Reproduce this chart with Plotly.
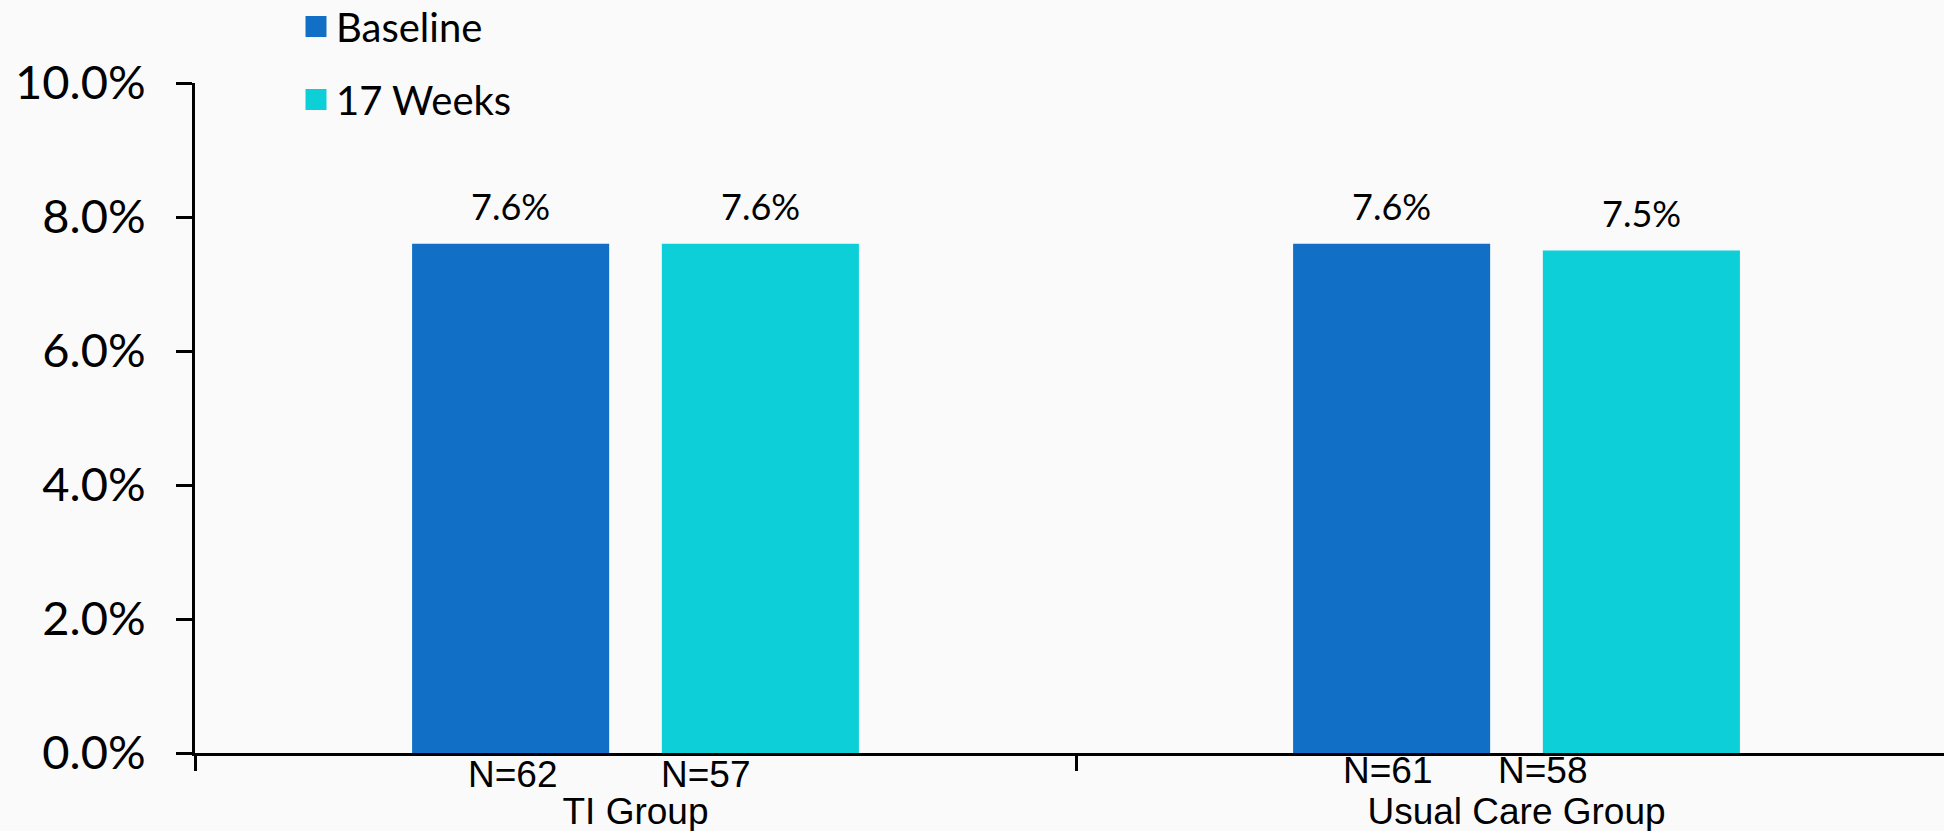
import plotly.graph_objects as go

# ---- data ----
groups = ["TI Group", "Usual Care Group"]
series_names = ["Baseline", "17 Weeks"]
baseline = [0.076, 0.076]
weeks17 = [0.076, 0.075]
n_labels = [["N=62", "N=61"], ["N=57", "N=58"]]
# horizontal offsets of the N= labels relative to group centre (category units)
n_offsets = [[-0.140, -0.146], [0.079, 0.029]]
# vertical pixel shifts of the N= labels below the axis
n_yshift = [[-21, -17], [-21, -17]]
y_ticks = [0.0, 0.02, 0.04, 0.06, 0.08, 0.10]

colors = ["#1170C6", "#0DCFD8"]
values = [baseline, weeks17]

BARGAP = 0.433
BARGROUPGAP = 0.211
CAL = "Lato, 'Open Sans', sans-serif"
ARIAL = "'Liberation Sans', Arial, sans-serif"

fig = go.Figure()
for i, (name, vals) in enumerate(zip(series_names, values)):
    fig.add_trace(go.Bar(
        x=groups, y=vals, name=name, marker=dict(color=colors[i], line=dict(width=0)),
        showlegend=False, hoverinfo="x+y",
    ))
    # legend entry with large square
    fig.add_trace(go.Scatter(
        x=[None], y=[None], mode="markers", name=name, legendgroup=name,
        marker=dict(symbol="square", size=16, color=colors[i],
                    line=dict(color=colors[i], width=5)),
        showlegend=True,
    ))

annotations = []
slot = (1 - BARGAP) / 2
for i, vals in enumerate(values):
    for g, v in enumerate(vals):
        xc = g + (i - 0.5) * slot
        annotations.append(dict(
            x=xc, y=v, xref="x", yref="y", text=f"{v*100:.1f}%", showarrow=False,
            yanchor="bottom", yshift=14, font=dict(family=CAL, size=36, color="black"),
        ))
        annotations.append(dict(
            x=g + n_offsets[i][g], y=0, xref="x", yref="y", text=n_labels[i][g],
            showarrow=False, yanchor="middle", yshift=n_yshift[i][g],
            font=dict(family=ARIAL, size=37, color="black"),
        ))

fig.update_layout(
    width=1944, height=831,
    margin=dict(l=195, r=0, t=83, b=78, autoexpand=False),
    paper_bgcolor="#fafafa", plot_bgcolor="rgba(0,0,0,0)",
    barmode="group", bargap=BARGAP, bargroupgap=BARGROUPGAP,
    showlegend=True,
    legend=dict(
        x=(296 - 195) / 1749, xanchor="left", y=1 + 89 / 670, yanchor="top",
        font=dict(family=CAL, size=40, color="black"),
        bgcolor="rgba(0,0,0,0)", tracegroupgap=18, itemsizing="trace",
    ),
    annotations=annotations,
    font=dict(family=CAL, color="black"),
)
fig.update_xaxes(
    type="category", range=[-0.5, -0.5 + 1749 / 881],
    showline=True, linecolor="black", linewidth=3,
    ticks="outside", tickson="boundaries", ticklen=15, tickwidth=3, tickcolor="black",
    tickfont=dict(family=ARIAL, size=37, color="black"),
    ticklabelstandoff=24, showgrid=False, zeroline=False,
)
fig.update_yaxes(
    range=[0, 0.10], tickvals=y_ticks, tickformat=".1%",
    showline=True, linecolor="black", linewidth=3,
    ticks="outside", ticklen=16, tickwidth=3, tickcolor="black",
    tickfont=dict(family=CAL, size=47, color="black"),
    ticklabelstandoff=21, showgrid=False, zeroline=False,
)

fig.write_html("out.html")
